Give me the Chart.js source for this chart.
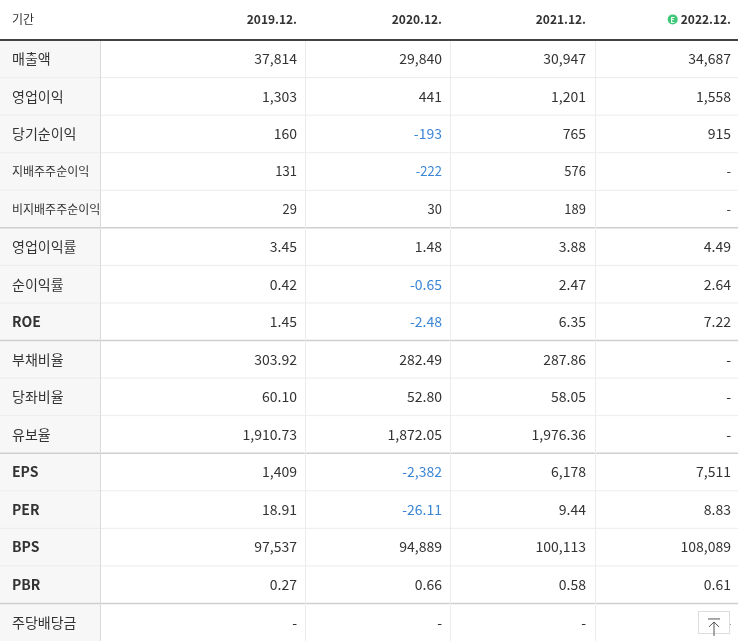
<!DOCTYPE html>
<html><head><meta charset="utf-8">
<script src="https://cdn.jsdelivr.net/npm/chart.js@4/dist/chart.umd.min.js"></script>
<style>html,body{margin:0;padding:0;background:#fff}#wrap{width:738px;height:641px}</style>
</head><body><div id="wrap"><canvas id="c"></canvas></div>
<script>
const periods = ['2019.12.', '2020.12.', '2021.12.', '2022.12.']
const rowLabels = ['매출액','영업이익','당기순이익','지배주주순이익','비지배주주순이익','영업이익률','순이익률','ROE','부채비율','당좌비율','유보율','EPS','PER','BPS','PBR','주당배당금']
const v2019 = ['37,814','1,303','160','131','29','3.45','0.42','1.45','303.92','60.10','1,910.73','1,409','18.91','97,537','0.27','-']
const v2020 = ['29,840','441','-193','-222','30','1.48','-0.65','-2.48','282.49','52.80','1,872.05','-2,382','-26.11','94,889','0.66','-']
const v2021 = ['30,947','1,201','765','576','189','3.88','2.47','6.35','287.86','58.05','1,976.36','6,178','9.44','100,113','0.58','-']
const v2022 = ['34,687','1,558','915','-','-','4.49','2.64','7.22','-','-','-','7,511','8.83','108,089','0.61','-']
const cols = [v2019, v2020, v2021, v2022]
const smallRows = [3, 4]
const groupEnds = [4, 7, 10, 14]

const colRight = [297, 442, 586, 731]   // right edge of text in x-scale units
const colLines = [100, 305, 450, 595]
const FONT = '"Liberation Sans Narrow","Noto Sans CJK KR",sans-serif'
const KFONT = '"Noto Sans CJK KR",sans-serif'

const tablePlugin = {
	id: 'table',
	beforeDraw: chart => {
		const ctx = chart.ctx, x = chart.scales.x, y = chart.scales.y
		const X = v => x.getPixelForValue(v), Y = v => y.getPixelForValue(v)
		ctx.save()
		// label column bg
		ctx.fillStyle = '#f7f7f7'
		ctx.fillRect(X(0), Y(0), X(100) - X(0), Y(16) - Y(0))
		// row lines
		for (let i = 1; i < 16; i++) {
			ctx.strokeStyle = groupEnds.includes(i - 1) ? '#cfcfcf' : '#ececec'
			ctx.lineWidth = groupEnds.includes(i - 1) ? 1.5 : 1
			ctx.beginPath(); ctx.moveTo(X(0), Y(i)); ctx.lineTo(X(738), Y(i)); ctx.stroke()
		}
		// col lines
		ctx.strokeStyle = '#ececec'; ctx.lineWidth = 1
		colLines.forEach(c => { ctx.beginPath(); ctx.moveTo(X(c) + 0.5, Y(0)); ctx.lineTo(X(c) + 0.5, Y(16)); ctx.stroke() })
		ctx.strokeStyle = '#dadada'
		ctx.beginPath(); ctx.moveTo(X(100) + 0.5, Y(0)); ctx.lineTo(X(100) + 0.5, Y(16)); ctx.stroke()
		// header bottom
		ctx.strokeStyle = '#444'; ctx.lineWidth = 2
		ctx.beginPath(); ctx.moveTo(X(0), Y(0)); ctx.lineTo(X(738), Y(0)); ctx.stroke()
		// header
		ctx.textBaseline = 'middle'
		const hy = Y(-0.55)
		ctx.fillStyle = '#333'; ctx.font = '12px ' + KFONT; ctx.textAlign = 'left'
		ctx.fillText('기간', X(12), hy)
		ctx.font = 'bold 12px ' + FONT; ctx.textAlign = 'right'
		periods.forEach((p, j) => ctx.fillText(p, X(colRight[j]), hy))
		// estimate badge
		const w = ctx.measureText(periods[3]).width
		const bx = X(colRight[3]) - w - 8
		ctx.fillStyle = '#3cc878'; ctx.beginPath(); ctx.arc(bx, hy, 5, 0, Math.PI * 2); ctx.fill()
		ctx.fillStyle = '#fff'; ctx.font = 'bold 7px ' + FONT; ctx.textAlign = 'center'
		ctx.fillText('E', bx, hy + 0.5)
		// rows
		rowLabels.forEach((r, i) => {
			const cy = Y(i + 0.5)
			const small = smallRows.includes(i)
			ctx.textAlign = 'left'; ctx.fillStyle = '#333'
			ctx.font = (small ? '12px ' : '14px ') + KFONT
			if (/^[A-Z]+$/.test(r)) ctx.font = 'bold 14px ' + FONT
			ctx.fillText(r, X(12), cy)
			ctx.textAlign = 'right'
			ctx.font = (small ? '13px ' : '14px ') + FONT
			cols.forEach((col, j) => {
				const t = col[i]
				ctx.fillStyle = (t.startsWith('-') && t.length > 1) ? '#3b86d6' : '#333'
				ctx.fillText(t, X(colRight[j]), cy)
			})
		})
		// scroll-top button
		ctx.fillStyle = '#fff'; ctx.strokeStyle = '#ddd'; ctx.lineWidth = 1
		ctx.fillRect(X(698), Y(15.2), X(729) - X(698), Y(16) - Y(15.2) - 8)
		ctx.strokeRect(X(698) + 0.5, Y(15.2) + 0.5, X(729) - X(698), Y(16) - Y(15.2) - 8)
		const ax = X(713.5) + 0.5, at = Y(15.2) + 8
		ctx.strokeStyle = '#555'
		ctx.beginPath(); ctx.moveTo(ax - 6, at); ctx.lineTo(ax + 6, at)
		ctx.moveTo(ax, at + 3); ctx.lineTo(ax, at + 17)
		ctx.moveTo(ax - 5, at + 8); ctx.lineTo(ax, at + 3); ctx.lineTo(ax + 5, at + 8); ctx.stroke()
		ctx.restore()
	}
}

new Chart(document.getElementById('c'), {
	type: 'scatter',
	data: { datasets: [{ data: [], pointRadius: 0 }] },
	options: {
		responsive: true,
		maintainAspectRatio: false,
		animation: false,
		layout: { padding: 0 },
		plugins: { legend: { display: false }, tooltip: { enabled: false } },
		scales: {
			x: { type: 'linear', min: 0, max: 738, display: false },
			y: { type: 'linear', min: -40 / 37.5, max: 16, reverse: true, display: false }
		}
	},
	plugins: [tablePlugin]
})
</script></body></html>
